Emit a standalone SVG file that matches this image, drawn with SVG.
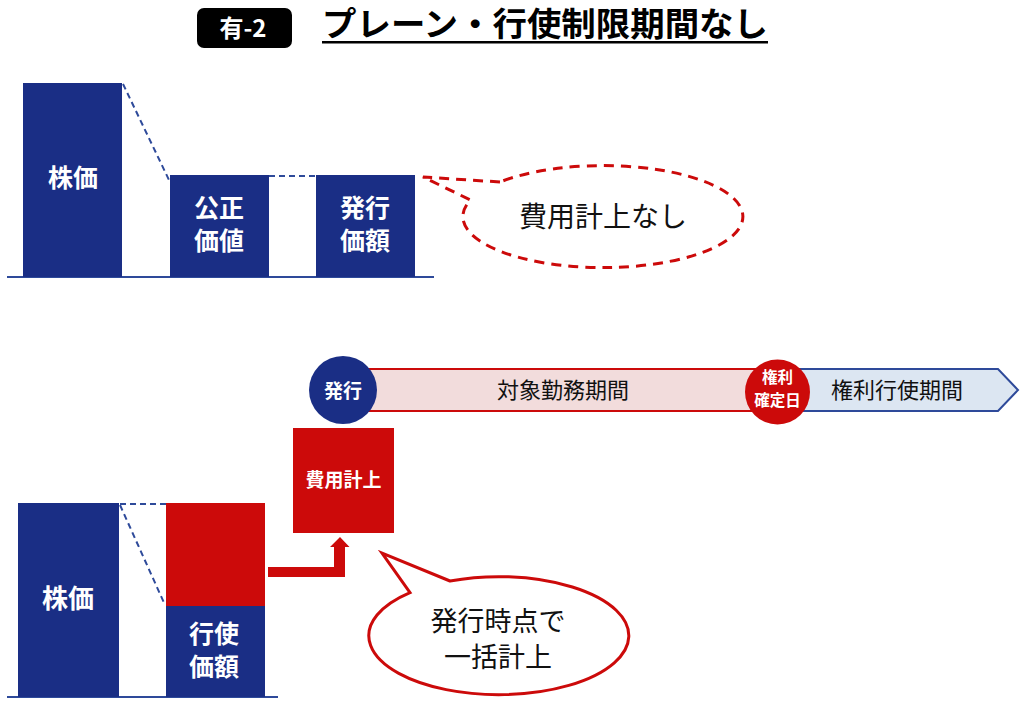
<svg xmlns="http://www.w3.org/2000/svg" width="1024" height="713" viewBox="0 0 1024 713">
<style>
.navy{fill:#1a2e85}
.red{fill:#cc0a0a}
.wt{fill:#ffffff;font-family:"Noto Sans CJK JP","Noto Sans",sans-serif;font-weight:700;text-anchor:middle}
.bt{fill:#111111;font-family:"Noto Sans CJK JP","Noto Sans",sans-serif;text-anchor:middle}
.dashb{stroke:#2e4a9a;stroke-width:2;stroke-dasharray:6 4;fill:none}
.axis{stroke:#2e4a9a;stroke-width:2;fill:none}
</style>
<rect width="1024" height="713" fill="#ffffff"/>

<g id="title">
  <rect x="197" y="8" width="95" height="40" rx="7" fill="#000000"/>
  <text x="243" y="37" class="wt" font-size="24" font-family="Liberation Sans,Noto Sans CJK JP,sans-serif">有-2</text>
  <text x="322" y="36" font-size="33" font-weight="700" fill="#000000" font-family="Noto Sans CJK JP,sans-serif" textLength="446" lengthAdjust="spacingAndGlyphs">プレーン・行使制限期間なし</text>
  <rect x="322" y="41" width="446" height="2.5" fill="#000000"/>
</g>

<!-- Top chart -->
<g id="top-axis"><line x1="7" y1="277" x2="434" y2="277" class="axis"/></g>
<g id="top-kabuka">
  <rect x="23" y="83" width="99" height="194" class="navy"/>
  <text x="73" y="187" class="wt" font-size="25">株価</text>
</g>
<g id="top-kousei">
  <rect x="170" y="175" width="99" height="102" class="navy"/>
  <text class="wt" font-size="25"><tspan x="219" y="217">公正</tspan><tspan x="219" y="250">価値</tspan></text>
</g>
<g id="top-hakkou">
  <rect x="316" y="175" width="99" height="102" class="navy"/>
  <text class="wt" font-size="25"><tspan x="365" y="217">発行</tspan><tspan x="365" y="250">価額</tspan></text>
</g>
<g id="top-callout">
  <path d="M500,182 L423,177 L470.5,200 A140,51 0 1 0 500,182 Z" fill="#ffffff" stroke="#cc0a0a" stroke-width="3" stroke-dasharray="10 7"/>
  <text x="603" y="227" class="bt" font-size="28">費用計上なし</text>
</g>

<!-- Timeline -->
<g id="vesting-period">
  <rect x="343" y="369" width="430" height="42" fill="#f2dcdc" stroke="#cc0a0a" stroke-width="2"/>
  <text x="563" y="398" class="bt" font-size="22">対象勤務期間</text>
</g>
<g id="exercise-period">
  <path d="M777,369 L998,369 L1018,390 L998,411 L777,411 Z" fill="#dce6f2" stroke="#2e4a9a" stroke-width="2"/>
  <text x="897" y="398" class="bt" font-size="22">権利行使期間</text>
</g>
<g id="issue-circle">
  <circle cx="343" cy="390" r="34" class="navy"/>
  <text x="343" y="397.5" class="wt" font-size="19">発行</text>
</g>
<g id="vest-circle">
  <circle cx="777.5" cy="392" r="32.5" class="red"/>
  <text class="wt" font-size="15.5"><tspan x="777.5" y="383">権利</tspan><tspan x="777.5" y="405.5">確定日</tspan></text>
</g>
<g id="expense-box">
  <rect x="293" y="428" width="101" height="105" class="red"/>
  <text x="343.5" y="487" class="wt" font-size="19">費用計上</text>
</g>

<!-- Bottom chart -->
<g id="bottom-axis"><line x1="7" y1="697" x2="278" y2="697" class="axis"/></g>
<g id="bottom-kabuka">
  <rect x="18" y="503" width="101" height="194" class="navy"/>
  <text x="68" y="608" class="wt" font-size="26">株価</text>
</g>
<g id="bottom-exercise">
  <rect x="166" y="503" width="99" height="103" class="red"/>
  <rect x="166" y="606" width="99" height="91" class="navy"/>
  <text class="wt" font-size="25"><tspan x="214" y="643">行使</tspan><tspan x="214" y="676">価額</tspan></text>
</g>
<g id="bottom-callout">
  <path d="M450,581 L382,553 L410,592.6 A130,59 0 1 0 450,581 Z" fill="#ffffff" stroke="#cc0a0a" stroke-width="3"/>
  <text class="bt" font-size="27"><tspan x="498" y="630.5">発行時点で</tspan><tspan x="498" y="666.5">一括計上</tspan></text>
</g>

<g id="connectors">
  <line x1="123" y1="84" x2="169" y2="180" class="dashb"/>
  <line x1="269" y1="176" x2="316" y2="176" class="dashb"/>
  <line x1="120" y1="504" x2="166" y2="504" class="dashb"/>
  <line x1="120" y1="505" x2="165" y2="605" class="dashb"/>
  <polygon points="268,567 334,567 334,547 330,547 340,537 349.5,547 345,547 345,577 268,577" class="red"/>
</g>
</svg>
